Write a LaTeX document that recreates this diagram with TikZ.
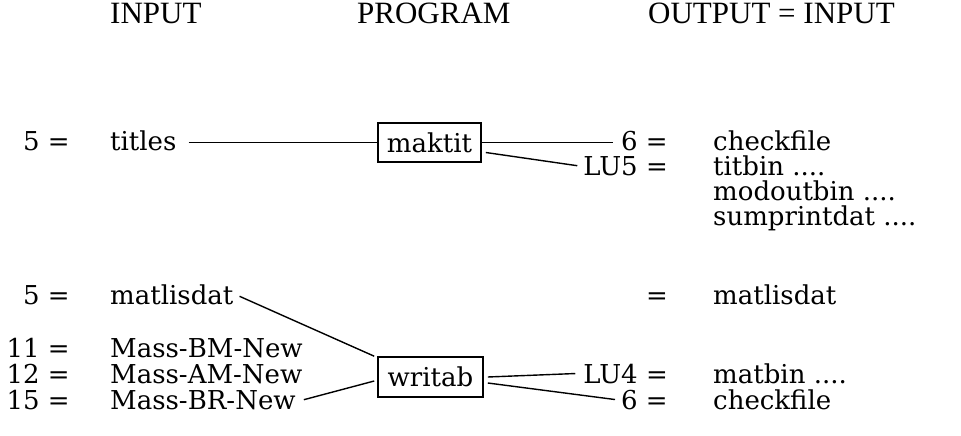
\documentclass[tikz,border=0pt]{standalone}
\usepackage{fontspec}
\setmainfont{DejaVu Serif}
\newfontfamily\hdrfont{Liberation Serif}
\begin{document}
\begin{tikzpicture}[x=1pt,y=-1pt,
  txt/.style={inner sep=0pt, font=\fontsize{26}{28}\selectfont},
  hdr/.style={inner sep=0pt, font=\hdrfont\fontsize{31}{33}\selectfont, anchor=base west},
  lab/.style={txt, anchor=base east},
  nm/.style={txt, anchor=base west},
  prog/.style={draw, line width=1.6pt, inner sep=0pt, font=\fontsize{26}{28}\selectfont},
  conn/.style={line width=1.4pt}]
\useasboundingbox (0,0) rectangle (961,436);
% headers
\node[hdr] (hin) at (110,24) {INPUT};
\node[hdr] (hprog) at (357,24) {PROGRAM};
\node[hdr] (hout) at (648,24) {OUTPUT = INPUT};
% input column
\node[lab] (n5a) at (70,150) {5 =};
\node[nm] (titles) at (110,150) {titles};
\node[lab] (n5b) at (70,304) {5 =};
\node[nm] (matlis) at (110,304) {matlisdat};
\node[lab] (n11) at (70,357) {11 =};
\node[nm] (bm) at (110,357) {Mass-BM-New};
\node[lab] (n12) at (70,383) {12 =};
\node[nm] (am) at (110,383) {Mass-AM-New};
\node[lab] (n15) at (70,409) {15 =};
\node[nm] (br) at (110,409) {Mass-BR-New};
% programs
\node[prog, minimum width=103, minimum height=39] (maktit) at (429.5,142.5) {maktit};
\node[prog, minimum width=105, minimum height=40] (writab) at (430.5,377) {writab};
% output column
\node[lab] (o6a) at (668,150) {6 =};
\node[nm] (chk1) at (713,150) {checkfile};
\node[lab] (lu5) at (668,175) {LU5 =};
\node[nm] (titbin) at (713,175) {titbin ....};
\node[nm] (modout) at (713,200) {modoutbin ....};
\node[nm] (sumpr) at (713,225) {sumprintdat ....};
\node[lab] (oeq) at (668,304) {=};
\node[nm] (matlis2) at (713,304) {matlisdat};
\node[lab] (lu4) at (668,383) {LU4 =};
\node[nm] (matbin) at (713,383) {matbin ....};
\node[lab] (o6b) at (668,409) {6 =};
\node[nm] (chk2) at (713,409) {checkfile};
% connectors
\draw[conn] ([xshift=12pt]titles.east |- maktit.west) -- (maktit.west);
\draw[conn] (maktit.east) -- ([xshift=-8pt]o6a.west |- maktit.east);
\draw[conn] ([xshift=4pt,yshift=-10pt]maktit.east) -- ([xshift=-6pt]lu5.west);
\draw[conn] ([xshift=6pt,yshift=-2pt]matlis.east) -- ([xshift=-3pt]writab.north west);
\draw[conn] ([xshift=8pt]br.east) -- ([xshift=-3pt,yshift=-4pt]writab.west);
\draw[conn] ([xshift=4pt]writab.east) -- ([xshift=-8pt]lu4.west);
\draw[conn] ([xshift=4pt,yshift=-6pt]writab.east) -- ([xshift=-6pt]o6b.west);
\end{tikzpicture}
\end{document}
